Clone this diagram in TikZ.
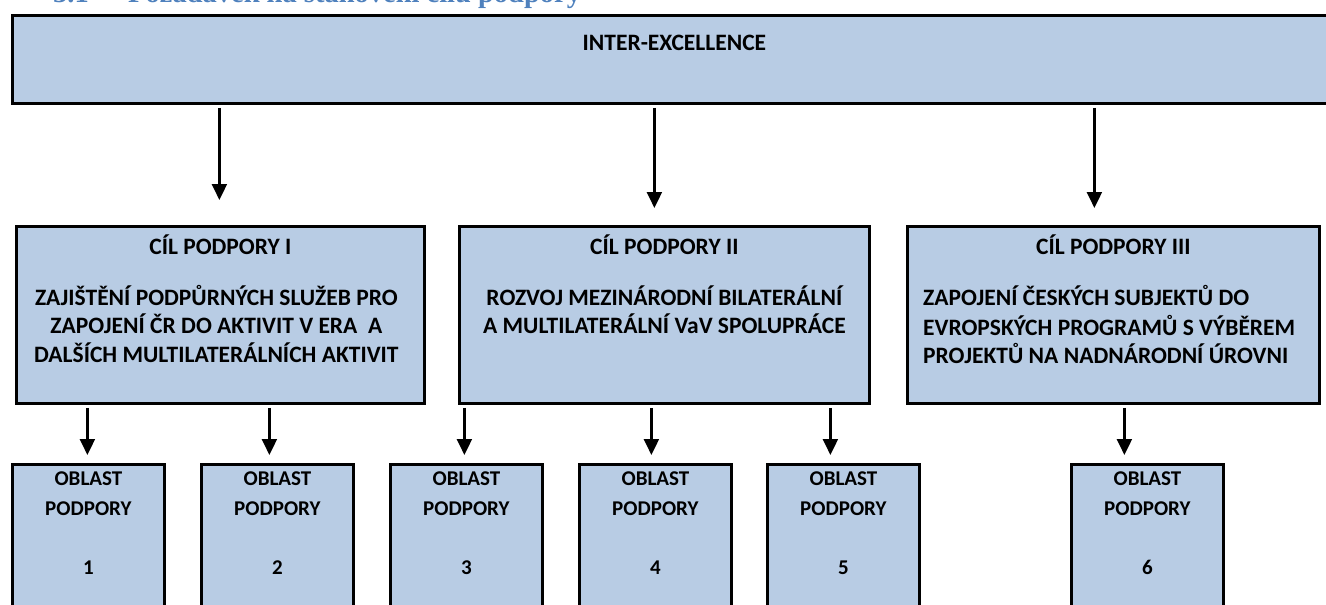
\documentclass[tikz,border=0pt]{standalone}
\usepackage{fontspec}
\setmainfont{Carlito}
\newfontfamily\headfont{Liberation Serif}
\usetikzlibrary{arrows.meta,calc}
\definecolor{boxblue}{HTML}{B8CCE4}
\definecolor{headblue}{HTML}{4F81BD}

\begin{document}
\begin{tikzpicture}[x=1pt,y=-1pt,
  box/.style={draw=black, line width=2.8pt, fill=boxblue, anchor=north west, inner sep=0pt},
  txt/.style={font=\bfseries\fontsize{23.5}{28.5}\selectfont, align=center, inner sep=0pt, anchor=north},
  areatxt/.style={txt, font=\bfseries\fontsize{21}{28.5}\selectfont},
  arr/.style={-{Triangle[width=15pt,length=16pt]}, line width=2.2pt}]
\useasboundingbox (0,0) rectangle (1326,605);
% heading, cut by the page edge
\node[font=\headfont\bfseries\fontsize{28.5}{32}\selectfont, text=headblue, anchor=base west, inner sep=0pt] (head) at (53,2) {\makebox[75pt][l]{3.1}Požadavek na stanovení cílů podpory};
% programme
\node[box, minimum width=1340pt, minimum height=88pt] (top) at (11,14) {};
\node[txt] (toptxt) at ([xshift=-8pt,yshift=-16pt]top.north) {\strut INTER-EXCELLENCE};
% goals
\node[box, minimum width=408pt, minimum height=177pt] (cI) at (15,225) {};
\node[box, minimum width=410pt, minimum height=177pt] (cII) at (458,225) {};
\node[box, minimum width=412pt, minimum height=177pt] (cIII) at (906,225) {};
\node[txt] (cIa) at ([yshift=-9pt]cI.north) {\strut CÍL PODPORY I};
\node[txt] (cIb) at ([xshift=-4pt,yshift=-60pt]cI.north) {\strut ZAJIŠTĚNÍ PODPŮRNÝCH SLUŽEB PRO\\ZAPOJENÍ ČR DO AKTIVIT V ERA\ \ A\\DALŠÍCH MULTILATERÁLNÍCH AKTIVIT};
\node[txt] (cIIa) at ([yshift=-9pt]cII.north) {\strut CÍL PODPORY II};
\node[txt] (cIIb) at ([yshift=-60pt]cII.north) {\strut ROZVOJ MEZINÁRODNÍ BILATERÁLNÍ\\A MULTILATERÁLNÍ VaV SPOLUPRÁCE};
\node[txt] (cIIIa) at ([yshift=-9pt]cIII.north) {\strut CÍL PODPORY III};
\node[txt, align=left, anchor=north west] (cIIIb) at ([xshift=17pt,yshift=-60pt]cIII.north west) {\strut ZAPOJENÍ ČESKÝCH SUBJEKTŮ DO\\EVROPSKÝCH PROGRAMŮ S VÝBĚREM\\PROJEKTŮ NA NADNÁRODNÍ ÚROVNI};
% areas
\foreach \i/\x in {1/11,2/200,3/389,4/578,5/766,6/1070}{
  \node[box, minimum width=152pt, minimum height=170pt] (o\i) at (\x,463) {};
  \node[areatxt] (o\i t) at ([yshift=-2pt]o\i.north) {\strut OBLAST\\[1.5pt]PODPORY\\[30.5pt]\i};
}
% arrows
\foreach \n/\d/\s in {I/-1/25,II/-10/17,III/-19/17}{
  \path ([xshift=\d pt]c\n.north) coordinate (a\n);
  \draw[arr, shorten <=3pt, shorten >=\s pt] (top.south -| a\n) -- (a\n);
}
\foreach \i/\p/\d in {1/I/-1,2/I/-8,3/II/-2,4/II/-4,5/II/-13,6/III/-23}{
  \path ([xshift=\d pt]o\i.north) coordinate (b\i);
  \draw[arr, shorten <=3pt, shorten >=8pt] (c\p.south -| b\i) -- (b\i);
}
\end{tikzpicture}
\end{document}
